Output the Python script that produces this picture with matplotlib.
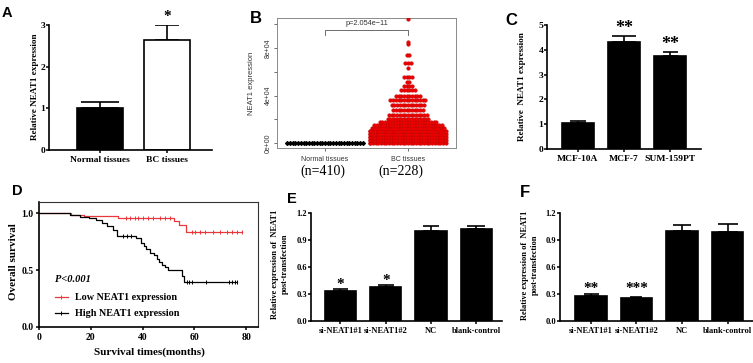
import matplotlib
matplotlib.use('Agg')
import matplotlib.pyplot as plt
import numpy as np

# ---------------- data ----------------
a_groups = ['Normal tissues', 'BC tissues']
a_means = [1.0, 2.65]
a_errs = [0.15, 0.36]
a_stars = ['', '*']

b_groups = ['Normal tissues', 'BC tissues']
b_n_labels = ['(n=410)', '(n=228)']
b_normal_levels = [300]
b_normal_counts = [410]
b_bc_levels = [0, 2500, 5000, 7500, 10000, 12500, 15000, 17500, 20500, 23500,
               27500, 32000, 36500, 40000, 44500, 48000, 51500, 55500, 63000,
               67000, 74000, 83000, 85000, 104000]
b_bc_counts = [30, 30, 30, 30, 30, 28, 26, 22, 16, 15, 12, 13, 14, 10, 6, 4,
               2, 4, 1, 3, 2, 1, 1, 1]
b_pvalue = 'p=2.054e\u221211'
b_yticks = [0, 20000, 40000, 60000, 80000, 100000]
b_yticklabels = ['0e+00', '', '4e+04', '', '8e+04', '']

c_groups = ['MCF-10A', 'MCF-7', 'SUM-159PT']
c_means = [1.03, 4.33, 3.75]
c_errs = [0.09, 0.22, 0.17]
c_stars = ['', '**', '**']

d_low_t = [0, 12.5, 17.5, 30.5, 52.0, 54.0, 56.7, 78.3]
d_low_s = [1.0, 0.99, 0.98, 0.96, 0.935, 0.895, 0.84, 0.84]
d_low_cens = [33.5, 35.2, 37.1, 38.4, 40.3, 42.2, 44.2, 46.8, 48.7, 50.6,
              59.0, 60.3, 62.2, 64.2, 67.4, 69.9, 72.5, 74.5, 76.4, 78.3]
d_high_t = [0, 12.0, 15.8, 19.5, 22.0, 24.2, 26.2, 28.5, 30.0, 37.5, 39.5,
            40.5, 41.5, 43.0, 44.5, 45.5, 46.5, 47.5, 48.5, 50.0, 55.1, 56.0, 76.4]
d_high_s = [1.0, 0.985, 0.97, 0.955, 0.94, 0.918, 0.888, 0.85, 0.805, 0.78,
            0.74, 0.71, 0.69, 0.655, 0.63, 0.60, 0.575, 0.55, 0.525, 0.505,
            0.45, 0.40, 0.40]
d_high_cens = [32.5, 34.0, 35.5, 57.0, 58.0, 59.1, 64.7, 73.4, 74.6, 75.6, 76.4]
d_labels = ['Low NEAT1 expression', 'High NEAT1 expression']

e_groups = ['si-NEAT1#1', 'si-NEAT1#2', 'NC', 'blank-control']
e_means = [0.337, 0.373, 1.005, 1.025]
e_errs = [0.022, 0.022, 0.048, 0.033]
e_stars = ['*', '*', '', '']

f_groups = ['si-NEAT1#1', 'si-NEAT1#2', 'NC', 'blank-control']
f_means = [0.281, 0.255, 1.0, 0.994]
f_errs = [0.015, 0.007, 0.064, 0.079]
f_stars = ['**', '***', '', '']

# ---------------- figure ----------------
W, H = 753, 363
plt.rcParams['font.family'] = ['Liberation Serif', 'DejaVu Serif']
plt.rcParams['font.weight'] = 'bold'
plt.rcParams['axes.labelweight'] = 'bold'
fig = plt.figure(figsize=(W / 100, H / 100), dpi=100)
SANS = ['Liberation Sans', 'DejaVu Sans']


def ax_px(x0, y0, x1, y1):
    return fig.add_axes([x0 / W, 1 - y1 / H, (x1 - x0) / W, (y1 - y0) / H])


def ftext(x, y, s, **kw):
    return fig.text(x / W, 1 - y / H, s, **kw)


def prism(ax, fs):
    for sp in ['top', 'right']:
        ax.spines[sp].set_visible(False)
    for sp in ['left', 'bottom']:
        ax.spines[sp].set_linewidth(1.2)
    ax.tick_params(axis='y', direction='out', length=2.0, width=1.1,
                   labelsize=fs, pad=0.8)
    ax.tick_params(axis='x', direction='out', length=2.0, width=1.1,
                   labelsize=fs, pad=2.0)


def bar_panel(rect, cats, means, errs, caps, stars, star_y, xlim, ylim,
              yticks, yfmt, fs, bar_w, fills, star_fs):
    ax = ax_px(*rect)
    x = np.arange(len(cats))
    ax.bar(x, means, width=bar_w, color=fills, edgecolor='black',
           linewidth=1.2, zorder=2)
    for xi, m, e, c in zip(x, means, errs, caps):
        ax.errorbar(xi, m, yerr=[[0], [e]], fmt='none', ecolor='black',
                    elinewidth=1.2, capsize=c, capthick=1.2, zorder=1)
    for xi, s, sy in zip(x, stars, star_y):
        if s:
            ax.text(xi, sy, s, ha='center', va='center', fontsize=star_fs,
                    clip_on=False)
    ax.set_xlim(*xlim)
    ax.set_ylim(*ylim)
    ax.set_yticks(yticks)
    ax.set_yticklabels([yfmt.format(v) for v in yticks])
    ax.set_xticks(x)
    ax.set_xticklabels(cats)
    prism(ax, fs)
    return ax


# ---- A ----
bar_panel((49, 25, 212, 150), a_groups, a_means, a_errs, [13.5, 8.3], a_stars,
          [0, 3.2], (-0.76, 1.67), (0, 3), [0, 1, 2, 3], '{:d}', 6.8, 0.69,
          ['black', 'white'], 11)
ftext(35, 87, 'Relative NEAT1 expression', rotation=90, ha='center',
      va='center', fontsize=6.6)

# ---- B ----
axb = ax_px(277, 18, 456, 148)


def swarm(center, levels, counts, dx, half):
    xs, ys = [], []
    m = int(np.floor(2 * half / dx)) + 1
    for v, n in zip(levels, counts):
        k = min(n, m)
        for i in range(n):
            j = i % m
            xs.append(center + (j - (k - 1) / 2) * dx)
            ys.append(v)
    return xs, ys


nx, ny = swarm(1, b_normal_levels, b_normal_counts, 0.0325, 0.46)
bx, by = swarm(2, b_bc_levels, b_bc_counts, 0.0325, 0.47)
axb.scatter(nx, ny, s=6, color='black', linewidths=0, zorder=3)
axb.scatter(bx, by, s=7, color='#ee0000', edgecolors='#b00000',
            linewidths=0.25, zorder=3)
axb.set_xlim(0.42, 2.58)
axb.set_ylim(-4210, 105263)
for sp in axb.spines.values():
    sp.set_color('#8a8a8a')
    sp.set_linewidth(0.7)
axb.set_yticks(b_yticks)
axb.set_yticklabels(b_yticklabels, rotation=90, va='center',
                    fontsize=5, family=SANS, weight='normal', color='#333333')
axb.set_xticks([1, 2])
axb.set_xticklabels(b_groups, fontsize=5, family=SANS, weight='normal',
                    color='#333333')
axb.tick_params(axis='both', length=2.5, width=0.6, color='#555555')
axb.tick_params(axis='x', pad=3)
axb.tick_params(axis='y', pad=1.5)
ftext(252, 83, 'NEAT1 expression', rotation=90, ha='center', va='center',
      fontsize=5.5, family=SANS, weight='normal', color='#333333')
yb = 95200
axb.plot([1, 1, 2, 2], [yb - 4200, yb, yb, yb - 4200], color='#555555',
         lw=0.6)
axb.text(1.5, yb + 2300, b_pvalue, ha='center', va='bottom', fontsize=5.3,
         family=SANS, weight='normal', color='#333333')
ftext(322.7, 171.5, b_n_labels[0], ha='center', va='center', fontsize=10,
      weight='normal')
ftext(400.7, 171.5, b_n_labels[1], ha='center', va='center', fontsize=10,
      weight='normal')

# ---- C ----
bar_panel((547, 25, 701, 149), c_groups, c_means, c_errs, [6.0, 8.6, 5.4],
          c_stars, [0, 4.86, 4.2], (-0.67, 2.67), (0, 5), [0, 1, 2, 3, 4, 5],
          '{:d}', 6.8, 0.70, 'black', 13)
ftext(522, 87, 'Relative  NEAT1 expression', rotation=90, ha='center',
      va='center', fontsize=6.6)

# ---- D ----
axd = ax_px(39, 202, 258, 327)


def step_at(ts, ss, t):
    idx = np.searchsorted(ts, t, side='right') - 1
    return ss[idx]


for ts, ss, cens, col in [(d_low_t, d_low_s, d_low_cens, '#e8383d'),
                          (d_high_t, d_high_s, d_high_cens, 'black')]:
    axd.step(ts, ss, where='post', color=col, lw=0.9)
    cy = [step_at(np.array(ts), np.array(ss), c) for c in cens]
    axd.plot(cens, cy, ls='none', marker='|', ms=3, mew=0.7, color=col)
axd.set_xlim(0, 84.6)
axd.set_ylim(0, 1.10)
axd.set_xticks([0, 20, 40, 60, 80])
axd.set_yticks([0, 0.5, 1.0])
axd.set_yticklabels(['0.0', '0.5', '1.0'])
for sp in ['left', 'bottom']:
    axd.spines[sp].set_linewidth(1.2)
for sp in ['top', 'right']:
    axd.spines[sp].set_linewidth(0.8)
    axd.spines[sp].set_color('#333333')
axd.tick_params(direction='out', length=2.5, width=1.1, labelsize=7, pad=1.5)
ftext(14, 262, 'Overall survival', rotation=90, ha='center', va='center',
      fontsize=8)
ftext(149.5, 352.5, 'Survival times(months)', ha='center', va='center',
      fontsize=8)
axd.text(0.073, 0.384, 'P<0.001', transform=axd.transAxes, ha='left',
         va='center', fontsize=7.5, style='italic')
for yy, lab, col in [(0.24, d_labels[0], '#e8383d'),
                     (0.112, d_labels[1], 'black')]:
    axd.plot([0.073, 0.132], [yy, yy], transform=axd.transAxes, color=col,
             lw=0.9)
    axd.plot([0.1025], [yy], transform=axd.transAxes, marker='|', ms=3,
             mew=0.7, color=col)
    axd.text(0.164, yy, lab, transform=axd.transAxes, ha='left', va='center',
             fontsize=7.3)

# ---- E ----
bar_panel((311, 213, 502, 321), e_groups, e_means, e_errs, [5.4, 6.0, 6.0, 6.4],
          e_stars, [0.41, 0.45, 0, 0], (-0.65, 3.57), (0, 1.2),
          [0, 0.3, 0.6, 0.9, 1.2], '{:.1f}', 6.0, 0.69, 'black', 11)
ftext(280, 264, 'Relative expression of  NEAT1\npost-transfection',
      rotation=90, ha='center', va='center', fontsize=6.0,
      multialignment='center', linespacing=1.3)

# ---- F ----
bar_panel((560, 213, 753, 321), f_groups, f_means, f_errs, [5.4, 4.0, 6.4, 7.2],
          f_stars, [0.36, 0.36, 0, 0], (-0.68, 3.56), (0, 1.2),
          [0, 0.3, 0.6, 0.9, 1.2], '{:.1f}', 6.0, 0.69, 'black', 11)
ftext(530, 265, 'Relative expression of  NEAT1\npost-transfection',
      rotation=90, ha='center', va='center', fontsize=6.0,
      multialignment='center', linespacing=1.3)

# ---- panel letters ----
for letter, x, y, fs in [('A', 2, 17, 10.5), ('B', 250, 23, 12),
                         ('C', 505, 25, 12), ('D', 12, 195, 10.5),
                         ('E', 287, 203, 10.5), ('F', 520, 197, 12)]:
    ftext(x, y, letter, ha='left', va='baseline', fontsize=fs,
          family=SANS, weight='bold')

fig.savefig('out.png', dpi=100)
